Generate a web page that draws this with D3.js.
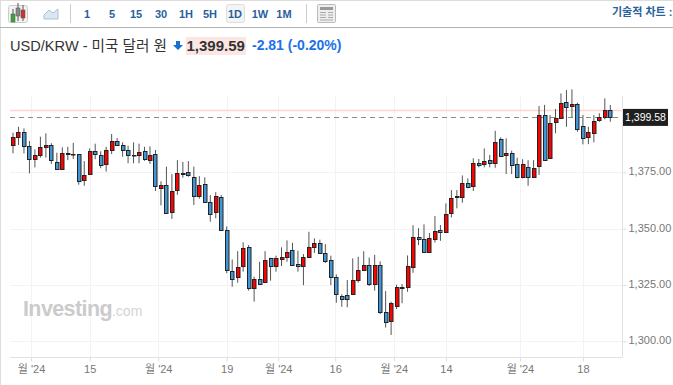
<!DOCTYPE html>
<html><head><meta charset="utf-8">
<script src="https://cdn.jsdelivr.net/npm/d3@7"></script>
<style>html,body{margin:0;padding:0;background:#fff;overflow:hidden}svg{display:block}text{font-family:"Liberation Sans","Noto Sans CJK KR",sans-serif}</style>
</head><body><svg id="c" width="673" height="385"></svg>
<script>
const opens=[1386.8,1390.6,1393.0,1386.8,1380.9,1382.8,1386.3,1387.1,1379.4,1376.6,1383.4,1383.2,1383.0,1371.4,1374.2,1384.3,1382.8,1378.5,1385.2,1389.0,1387.1,1384.7,1382.5,1382.8,1384.3,1380.8,1383.2,1368.0,1369.2,1357.2,1367.3,1374.5,1375.0,1373.0,1364.2,1369.7,1361.7,1357.5,1364.0,1349.3,1331.3,1328.5,1333.3,1341.8,1323.8,1327.8,1326.2,1336.8,1333.3,1336.7,1337.5,1340.4,1334.2,1333.3,1337.5,1341.9,1343.5,1339.0,1335.9,1328.4,1320.0,1320.7,1321.0,1327.1,1331.6,1333.7,1325.3,1333.7,1313.0,1309.0,1315.7,1324.1,1323.8,1333.3,1346.4,1345.3,1339.5,1345.7,1349.3,1348.4,1357.1,1364.3,1364.2,1370.1,1368.9,1379.2,1378.7,1380.3,1379.0,1389.9,1382.5,1383.7,1378.5,1372.6,1377.3,1373.0,1377.8,1400.4,1381.2,1397.6,1399.2,1406.3,1404.3,1405.1,1395.7,1390.5,1392.6,1397.9,1399.4,1402.5];
const highs=[1392.6,1395.2,1394.5,1388.9,1385.2,1390.8,1392.3,1387.9,1383.7,1386.1,1386.3,1388.1,1383.1,1380.0,1385.6,1387.7,1384.3,1386.3,1392.0,1390.2,1388.3,1386.8,1388.3,1387.7,1386.3,1386.5,1384.9,1371.0,1377.5,1374.2,1380.4,1379.6,1380.0,1377.5,1373.3,1372.8,1364.9,1366.2,1364.9,1351.0,1336.3,1340.0,1343.9,1342.7,1328.7,1335.3,1340.0,1337.1,1338.0,1341.7,1344.8,1343.7,1340.2,1338.7,1348.6,1345.7,1345.1,1343.1,1338.0,1329.7,1320.9,1327.2,1336.8,1337.5,1340.0,1337.2,1338.4,1335.5,1322.3,1317.6,1325.1,1325.4,1338.1,1351.5,1350.2,1351.9,1348.0,1355.6,1351.6,1361.2,1367.1,1367.1,1373.6,1372.3,1381.2,1380.9,1385.6,1382.7,1393.4,1390.5,1390.1,1384.6,1381.5,1380.8,1380.4,1380.4,1404.4,1404.9,1400.4,1403.1,1410.0,1411.5,1411.8,1405.9,1400.4,1395.2,1400.4,1401.2,1407.8,1404.9];
const lows=[1383.4,1387.1,1383.4,1374.5,1377.2,1381.5,1381.5,1378.7,1376.0,1376.3,1380.4,1380.9,1369.5,1369.0,1374.1,1380.8,1376.8,1375.3,1383.1,1386.7,1381.9,1379.0,1379.0,1379.0,1380.1,1378.7,1366.7,1360.3,1356.5,1354.3,1365.0,1372.6,1373.0,1360.5,1363.3,1361.5,1353.1,1354.6,1349.0,1330.2,1324.2,1326.0,1330.9,1322.5,1317.6,1325.4,1326.0,1326.9,1330.9,1333.4,1335.3,1333.5,1330.9,1324.9,1337.1,1339.2,1338.8,1334.7,1324.9,1317.1,1315.3,1315.1,1320.9,1326.0,1331.3,1324.5,1322.5,1312.1,1306.1,1302.8,1314.3,1316.9,1322.0,1330.4,1342.7,1339.3,1339.3,1343.8,1344.6,1348.2,1355.0,1359.0,1361.5,1367.9,1366.7,1377.2,1377.2,1377.2,1377.0,1382.2,1374.2,1374.2,1372.3,1372.3,1369.0,1373.0,1373.8,1380.1,1380.9,1392.3,1399.0,1395.2,1399.4,1393.0,1387.4,1387.5,1388.3,1397.4,1398.5,1397.4];
const closes=[1390.5,1393.0,1386.8,1380.9,1382.8,1386.3,1387.1,1380.4,1376.5,1383.5,1383.1,1383.0,1371.0,1373.8,1384.3,1382.8,1378.5,1384.7,1389.0,1387.1,1384.7,1382.5,1382.3,1384.0,1380.9,1382.8,1369.2,1369.2,1356.8,1366.5,1374.7,1374.2,1373.5,1364.6,1369.2,1361.7,1356.4,1364.5,1349.3,1331.7,1327.8,1332.8,1341.2,1323.5,1327.8,1325.7,1335.9,1333.3,1336.8,1337.5,1339.5,1333.8,1333.3,1337.5,1341.9,1343.5,1339.0,1335.5,1328.5,1320.9,1318.6,1319.1,1327.1,1331.6,1333.7,1325.3,1333.7,1312.7,1308.6,1317.1,1324.0,1323.8,1333.3,1346.4,1345.3,1339.5,1345.7,1349.1,1348.4,1356.3,1363.7,1364.0,1370.3,1368.3,1379.2,1378.5,1380.0,1379.0,1388.3,1382.5,1383.5,1378.5,1372.6,1378.5,1372.8,1377.0,1400.4,1380.3,1396.7,1399.2,1405.9,1404.3,1405.1,1393.8,1390.5,1392.7,1397.9,1399.4,1402.6,1399.6];
const priceTicks=[1300,1325,1350,1375];
const timeTickPositions=[3.3,14,26.5,39,48.4,58.8,69.5,79,92.5,104];
const timeTickLabels=["월 '24","15","월 '24","19","월 '24","16","월 '24","14","월 '24","18"];
const intervals=["1","5","15","30","1H","5H","1D","1W","1M"];
const lastPrice=1399.58, prevClose=1402.4;

const svg=d3.select("#c");
const x=d3.scaleLinear().domain([0,opens.length-1]).range([13,610.3]);
const y=d3.scaleLinear().domain([1300,1375]).range([341.3,172.3]);
const L=10,R=622.5,T=96,B=357.5;
const fmt=d3.format(",.2f");

// frame
svg.append("rect").attr("x",0).attr("y",0).attr("width",673).attr("height",1).attr("fill","#ddd");
svg.append("rect").attr("x",0).attr("y",0).attr("width",1).attr("height",385).attr("fill","#ddd");
svg.append("rect").attr("x",0).attr("y",27).attr("width",673).attr("height",1).attr("fill","#b0b0b0");

// toolbar
const tb=svg.append("g");
tb.append("rect").attr("x",8.5).attr("y",5.5).attr("width",19).attr("height",17).attr("rx",2).attr("fill","#f2f2f2").attr("stroke","#ccc");
[[13,"#3a3",17],[18,"#888",11],[23,"#c33",13]].forEach(([a,c,t])=>{
 tb.append("line").attr("x1",a).attr("x2",a).attr("y1",t-9+1).attr("y2",21).attr("stroke","#555");
 tb.append("rect").attr("x",a-2).attr("y",t-3).attr("width",4).attr("height",8).attr("fill",c).attr("stroke","#555").attr("stroke-width",.5);
});
tb.append("path").attr("d","M44 19V15L49 10L53 13L58 9V19Z").attr("fill","#dbe6f1").attr("stroke","#a9c0d8");
tb.append("rect").attr("x",70).attr("y",4).attr("width",1).attr("height",19).attr("fill","#ccc");
tb.append("rect").attr("x",306).attr("y",4).attr("width",1).attr("height",19).attr("fill","#ccc");
tb.append("rect").attr("x",226.5).attr("y",4.5).attr("width",18).attr("height",18).attr("rx",2).attr("fill","#f4f4f4").attr("stroke","#ddd");
const ivX=[87,112,136,161,186,210,235,260,284];
tb.selectAll("text.iv").data(intervals).join("text").attr("class","iv").attr("x",(d,i)=>ivX[i]).attr("y",18).attr("text-anchor","middle").attr("font-size",11).attr("font-weight",700).attr("fill","#2a5f9e").text(d=>d);
tb.append("rect").attr("x",317.5).attr("y",4.5).attr("width",18).attr("height",18).attr("rx",1).attr("fill","#eee").attr("stroke","#bbb");
tb.append("rect").attr("x",320).attr("y",7).attr("width",13).attr("height",3).attr("fill","#999");
tb.append("path").attr("d","M320 12.5h6M320 15h6M320 17.5h6M320 20h13M328 12.5h5M328 15h5M328 17.5h5").attr("stroke","#aaa");
svg.append("text").attr("x",612).attr("y",16).attr("font-size",11).attr("font-weight",700).attr("fill","#2a5f9e").text("기술적 차트 :");

// title
svg.append("text").attr("x",10).attr("y",51).attr("font-size",14.6).attr("fill","#333").text("USD/KRW - 미국 달러 원");
svg.append("path").attr("d","M176 41h4v4h3l-5 5l-5-5h3z").attr("fill","#1a6fd0");
svg.append("rect").attr("x",186).attr("y",37).attr("width",60).attr("height",18).attr("fill","#fbe6e4");
svg.append("text").attr("x",186.5).attr("y",51).attr("font-size",15).attr("font-weight",700).attr("fill","#333").text(fmt(lastPrice+0.01));
svg.append("text").attr("x",252).attr("y",50).attr("font-size",14).attr("font-weight",700).attr("fill","#1a73e8").text("-2.81 (-0.20%)");

// grid
const grid=svg.append("g").attr("stroke","#f3f3f3");
grid.selectAll("line.h").data(priceTicks).join("line").attr("class","h").attr("x1",L).attr("x2",R).attr("y1",d=>Math.round(y(d))+.5).attr("y2",d=>Math.round(y(d))+.5);
grid.selectAll("line.v").data(timeTickPositions).join("line").attr("class","v").attr("x1",d=>Math.round(x(d))+.5).attr("x2",d=>Math.round(x(d))+.5).attr("y1",T).attr("y2",B);

// watermark
const wm=svg.append("text").attr("x",23).attr("y",316);
wm.append("tspan").attr("font-size",21.5).attr("font-weight",700).attr("fill","#cbcbcb").attr("letter-spacing",-.6).text("Investing");
wm.append("tspan").attr("font-size",14).attr("fill","#d4d4d4").text(".com");

// reference lines
svg.append("line").attr("x1",L).attr("x2",R).attr("y1",y(prevClose)).attr("y2",y(prevClose)).attr("stroke","#fdd5d5").attr("stroke-width",1.5);
svg.append("line").attr("x1",L).attr("x2",R).attr("y1",Math.round(y(lastPrice))+.5).attr("y2",Math.round(y(lastPrice))+.5).attr("stroke","#8a8a8a").attr("stroke-dasharray","5 4");

// candles
const idx=d3.range(opens.length);
const g=svg.append("g");
g.selectAll("line").data(idx).join("line").attr("x1",i=>x(i)).attr("x2",i=>x(i)).attr("y1",i=>y(highs[i])).attr("y2",i=>y(lows[i])).attr("stroke","#555").attr("stroke-width",1);
g.selectAll("rect").data(idx).join("rect")
 .attr("x",i=>Math.round(x(i)-2)+.5).attr("width",3.5)
 .attr("y",i=>Math.round(y(Math.max(opens[i],closes[i])))+.5)
 .attr("height",i=>Math.max(.5,Math.round(Math.abs(y(opens[i])-y(closes[i])))))
 .attr("fill",i=>closes[i]>opens[i]?"#ff0000":"#4096d6").attr("stroke","#222").attr("stroke-width",1);

// axes
svg.append("path").attr("d",`M${L} ${B}H${R}V${T}`).attr("fill","none").attr("stroke","#e2e2e6");
const ya=d3.axisRight(y).tickValues(priceTicks).tickFormat(fmt).tickSize(4).tickPadding(2);
const yg=svg.append("g").attr("transform",`translate(${R},0)`).call(ya);
yg.select(".domain").remove();
yg.selectAll("line").attr("stroke","#ddd");
yg.selectAll("text").attr("font-size",11).attr("fill","#777").attr("dy","0.22em").style("font-family",'"Liberation Sans",sans-serif');
const xa=d3.axisBottom(x).tickValues(timeTickPositions).tickFormat((d,i)=>timeTickLabels[i]).tickSize(4).tickPadding(4);
const xg=svg.append("g").attr("transform",`translate(0,${B})`).call(xa);
xg.select(".domain").remove();
xg.selectAll("line").attr("stroke","#ddd");
xg.selectAll("text").attr("font-size",11).attr("fill","#777").style("font-family",'"Liberation Sans","Noto Sans CJK KR",sans-serif');

// last price tag
svg.append("rect").attr("x",R+.5).attr("y",y(lastPrice)-8).attr("width",45).attr("height",17).attr("fill","#1f1f1f");
svg.append("text").attr("x",R+23).attr("y",y(lastPrice)+4).attr("text-anchor","middle").attr("font-size",10.5).attr("fill","#fff").text(fmt(lastPrice));
</script></body></html>
